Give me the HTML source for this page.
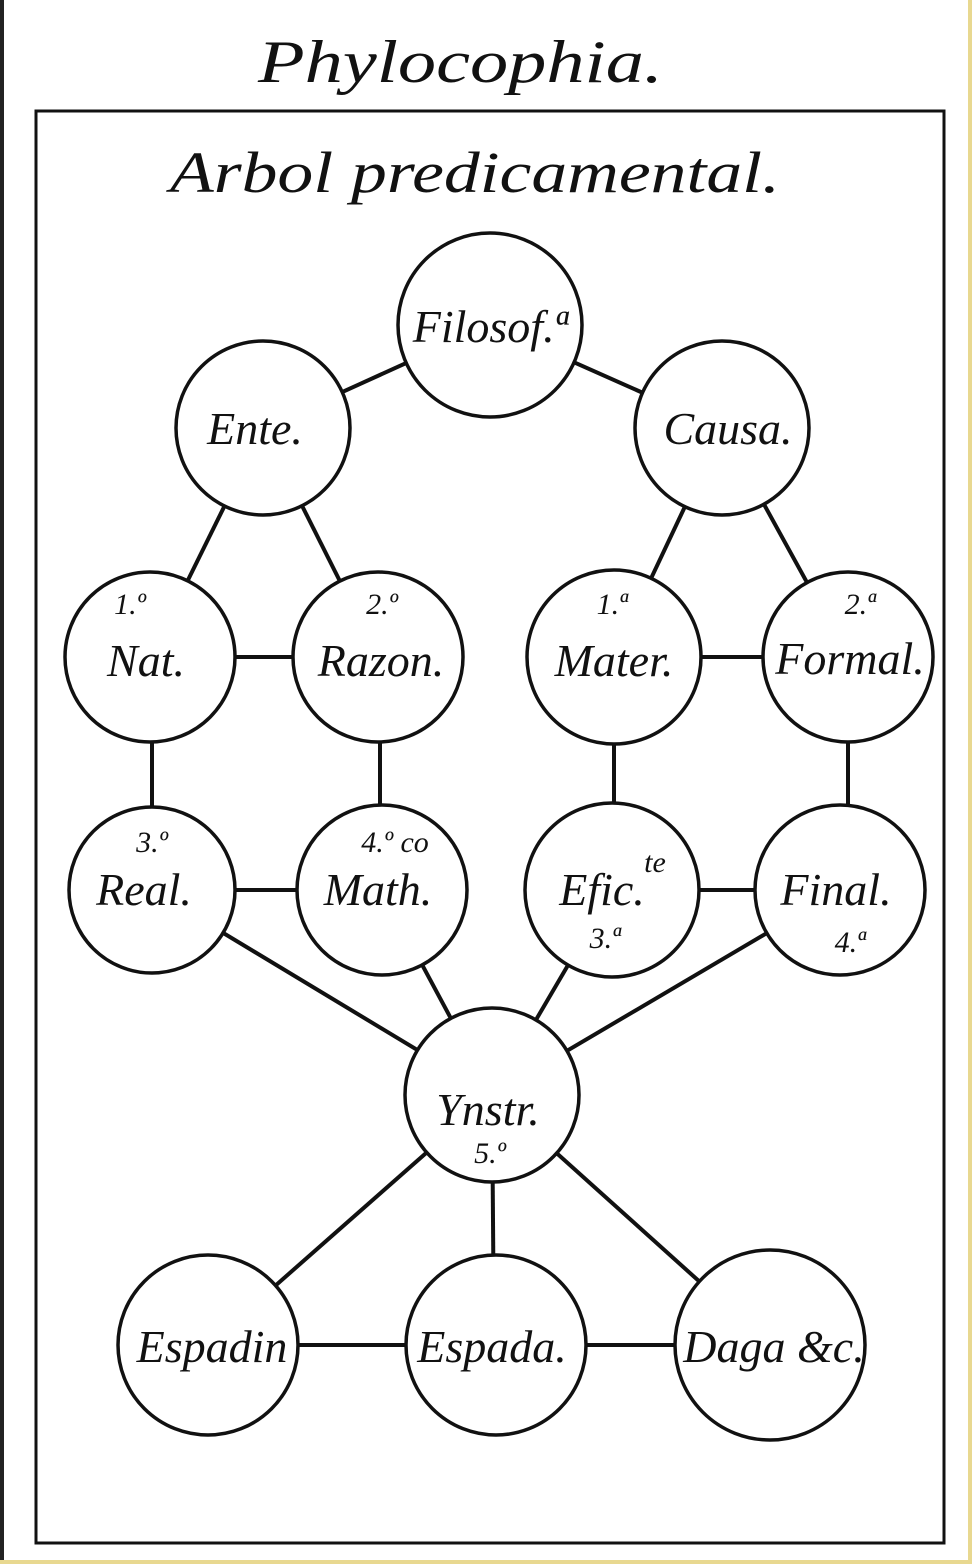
<!DOCTYPE html>
<html><head><meta charset="utf-8"><style>
html,body{margin:0;padding:0;background:#fff;}
svg{display:block;}
text{font-family:"Liberation Serif",serif;font-style:italic;fill:#111;}
</style></head><body>
<svg width="972" height="1564" viewBox="0 0 972 1564" xmlns="http://www.w3.org/2000/svg">
<rect x="0" y="0" width="972" height="1564" fill="#fff"/>
<rect x="0" y="0" width="4" height="1564" fill="#222"/>
<rect x="968" y="0" width="4" height="1564" fill="#e8d890"/>
<rect x="0" y="1560" width="972" height="4" fill="#e8d890"/>
<text x="258" y="82" font-size="60" textLength="405" lengthAdjust="spacingAndGlyphs">Phylocophia.</text>
<rect x="36" y="111" width="908" height="1432" fill="none" stroke="#111" stroke-width="3"/>
<text x="170" y="192" font-size="58" textLength="610" lengthAdjust="spacingAndGlyphs">Arbol predicamental.</text>
<g stroke="#111" stroke-width="4" fill="none">
<line x1="490" y1="325" x2="263" y2="428"/>
<line x1="490" y1="325" x2="722" y2="428"/>
<line x1="263" y1="428" x2="150" y2="657"/>
<line x1="263" y1="428" x2="378" y2="657"/>
<line x1="722" y1="428" x2="614" y2="657"/>
<line x1="722" y1="428" x2="848" y2="657"/>
<line x1="150" y1="657" x2="378" y2="657"/>
<line x1="614" y1="657" x2="848" y2="657"/>
<line x1="152" y1="657" x2="152" y2="890"/>
<line x1="380" y1="657" x2="380" y2="890"/>
<line x1="614" y1="657" x2="614" y2="890"/>
<line x1="848" y1="657" x2="848" y2="890"/>
<line x1="152" y1="890" x2="382" y2="890"/>
<line x1="612" y1="890" x2="840" y2="890"/>
<line x1="152" y1="890" x2="492" y2="1095"/>
<line x1="382" y1="890" x2="492" y2="1095"/>
<line x1="612" y1="890" x2="492" y2="1095"/>
<line x1="840" y1="890" x2="492" y2="1095"/>
<line x1="492" y1="1095" x2="208" y2="1345"/>
<line x1="492" y1="1095" x2="494" y2="1345"/>
<line x1="492" y1="1095" x2="770" y2="1345"/>
<line x1="208" y1="1345" x2="770" y2="1345"/>
</g>
<g stroke="#111" stroke-width="3.5" fill="#fff">
<circle cx="490" cy="325" r="92"/>
<circle cx="263" cy="428" r="87"/>
<circle cx="722" cy="428" r="87"/>
<circle cx="150" cy="657" r="85"/>
<circle cx="378" cy="657" r="85"/>
<circle cx="614" cy="657" r="87"/>
<circle cx="848" cy="657" r="85"/>
<circle cx="152" cy="890" r="83"/>
<circle cx="382" cy="890" r="85"/>
<circle cx="612" cy="890" r="87"/>
<circle cx="840" cy="890" r="85"/>
<circle cx="492" cy="1095" r="87"/>
<circle cx="208" cy="1345" r="90"/>
<circle cx="496" cy="1345" r="90"/>
<circle cx="770" cy="1345" r="95"/>
</g>
<g font-size="46" text-anchor="middle">
<text x="490" y="342">Filosof.ª</text>
<text x="255" y="444">Ente.</text>
<text x="728" y="444">Causa.</text>
<text x="146" y="676">Nat.</text>
<text x="381" y="676">Razon.</text>
<text x="614" y="676">Mater.</text>
<text x="850" y="674">Formal.</text>
<text x="144" y="905">Real.</text>
<text x="378" y="905">Math.</text>
<text x="602" y="905">Efic.</text>
<text x="836" y="905">Final.</text>
<text x="488" y="1125">Ynstr.</text>
<text x="212" y="1362">Espadin</text>
<text x="492" y="1362">Espada.</text>
<text x="774" y="1362">Daga &amp;c.</text>
</g>
<g font-size="30" text-anchor="middle">
<text x="130" y="614">1.º</text>
<text x="382" y="614">2.º</text>
<text x="612" y="614">1.ª</text>
<text x="860" y="614">2.ª</text>
<text x="152" y="852">3.º</text>
<text x="395" y="852">4.º co</text>
<text x="655" y="872">te</text>
<text x="605" y="948">3.ª</text>
<text x="850" y="952">4.ª</text>
<text x="490" y="1163">5.º</text>
</g>
</svg>
</body></html>
